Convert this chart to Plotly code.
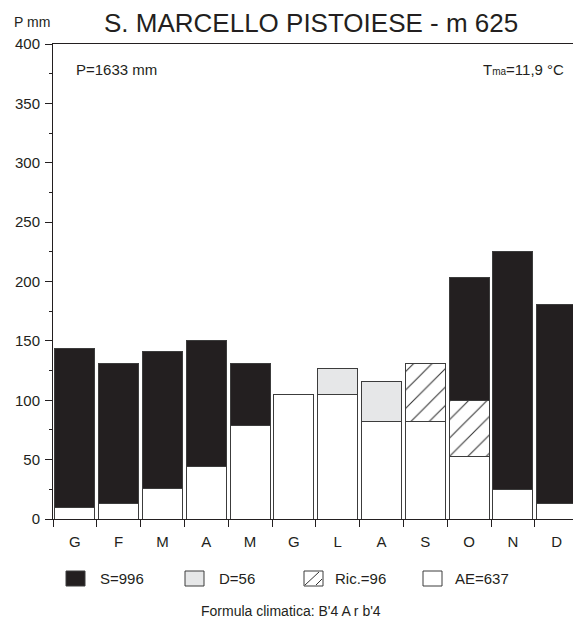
import plotly.graph_objects as go

# Monthly water balance (mm), Thornthwaite scheme
months = ["G", "F", "M", "A", "M", "G", "L", "A", "S", "O", "N", "D"]
ae = [10, 13, 26, 44, 79, 105, 105, 82, 82, 53, 25, 13]        # actual evapotranspiration
deficit = [0, 0, 0, 0, 0, 0, 22, 34, 0, 0, 0, 0]                # water deficit
recharge = [0, 0, 0, 0, 0, 0, 0, 0, 49, 47, 0, 0]               # soil recharge
surplus = [134, 118, 115, 106, 52, 0, 0, 0, 0, 103, 200, 168]   # water surplus

station = "S. MARCELLO PISTOIESE - m 625"
annual_precip = 1633
mean_temp = "11,9"
formula = "B'4 A r b'4"

W, H = 573, 630
ML, MR, MT, MB = 53, 0, 44, 111
PW, PH = W - ML - MR, H - MT - MB
SLOT = 43.8  # pixels per month

INK = "#231f20"
EDGE = "#3c3c3c"
FONT = "Liberation Sans, Arial, sans-serif"


def px_x(p):
    return (p - ML) / PW


def px_y(p):
    return (H - MB - p) / PH


def nz(vals):
    return [v if v else None for v in vals]


x = list(range(len(months)))
bar_w = 0.91

fig = go.Figure()
fig.add_bar(x=x, y=ae, width=bar_w, name="AE",
            marker=dict(color="white", line=dict(color=EDGE, width=1)))
fig.add_bar(x=x, y=nz(deficit), width=bar_w, name="D",
            marker=dict(color="#e6e7e8", line=dict(color=EDGE, width=1)))
fig.add_bar(x=x, y=nz(recharge), width=bar_w, name="Ric.",
            marker=dict(color="white", line=dict(color=EDGE, width=1),
                        pattern=dict(shape="/", fgcolor="#333333", bgcolor="white",
                                     size=13, solidity=0.08, fillmode="replace")))
fig.add_bar(x=x, y=nz(surplus), width=bar_w, name="S",
            marker=dict(color=INK, line=dict(color=EDGE, width=1)))

fig.update_layout(
    width=W, height=H,
    margin=dict(l=ML, r=MR, t=MT, b=MB, pad=0),
    barmode="stack",
    showlegend=False,
    plot_bgcolor="white", paper_bgcolor="white",
    font=dict(family=FONT, color=INK, size=14),
)

fig.update_xaxes(
    range=[-0.5, -0.5 + PW / SLOT],
    tickmode="array", tickvals=x, ticktext=months,
    ticks="", ticklabelstandoff=9,
    tickfont=dict(size=15, color=INK),
    minor=dict(tickmode="linear", tick0=-0.5, dtick=1, ticks="outside",
               ticklen=7, tickwidth=1, tickcolor=INK, showgrid=False),
    showline=True, linecolor=INK, linewidth=1, mirror=True,
    showgrid=False, zeroline=False,
)
fig.update_yaxes(
    range=[0, 400],
    tickmode="linear", tick0=0, dtick=50,
    ticks="outside", ticklen=7, tickwidth=1, tickcolor=INK,
    tickfont=dict(size=15, color=INK), ticklabelstandoff=2,
    minor=dict(tickmode="linear", tick0=0, dtick=25, ticks="outside",
               ticklen=3, tickwidth=1, tickcolor=INK, showgrid=False),
    showline=True, linecolor=INK, linewidth=1,
    showgrid=False, zeroline=False,
)

ann = []
ann.append(dict(text=station, x=px_x(311), y=px_y(23), xanchor="center", yanchor="middle",
                font=dict(size=26, color=INK)))
ann.append(dict(text="P mm", x=px_x(12), y=px_y(22), xanchor="left", yanchor="middle",
                font=dict(size=14, color=INK)))
ann.append(dict(text=f"P={annual_precip} mm", x=px_x(74), y=px_y(69), xanchor="left",
                yanchor="middle", font=dict(size=15, color=INK)))
ann.append(dict(text=f"T<span style='font-size:10px'>ma</span>={mean_temp} °C",
                x=px_x(566), y=px_y(69), xanchor="right", yanchor="middle",
                font=dict(size=15, color=INK)))
ann.append(dict(text=f"Formula climatica: {formula}", x=px_x(291), y=px_y(611),
                xanchor="center", yanchor="middle", font=dict(size=14, color=INK)))

# Legend: swatches drawn as shapes, labels show the annual totals
shapes = []
legend_items = [
    (66, INK, f"S={sum(surplus)}", 98),
    (185, "#e6e7e8", f"D={sum(deficit)}", 217),
    (304, "white", f"Ric.={sum(recharge)}", 333),
    (423, "white", f"AE={sum(ae)}", 453),
]
sw, sh_top, sh_bot = 19, 571, 586
for left, color, label, tx in legend_items:
    shapes.append(dict(type="rect", xref="paper", yref="paper",
                       x0=px_x(left), x1=px_x(left + sw), y0=px_y(sh_bot), y1=px_y(sh_top),
                       fillcolor=color, line=dict(color=EDGE, width=1)))
    ann.append(dict(text=label, x=px_x(tx), y=px_y(578), xanchor="left", yanchor="middle",
                    font=dict(size=15, color=INK)))

# hatch strokes inside the recharge swatch
for (x0, y0, x1, y1) in [(305, 585, 319, 572), (316, 585, 322, 579)]:
    shapes.append(dict(type="line", xref="paper", yref="paper",
                       x0=px_x(x0), y0=px_y(y0), x1=px_x(x1), y1=px_y(y1),
                       line=dict(color="#333333", width=1)))

for a in ann:
    a.update(xref="paper", yref="paper", showarrow=False)
fig.update_layout(annotations=ann, shapes=shapes)

fig.write_html("out.html")
